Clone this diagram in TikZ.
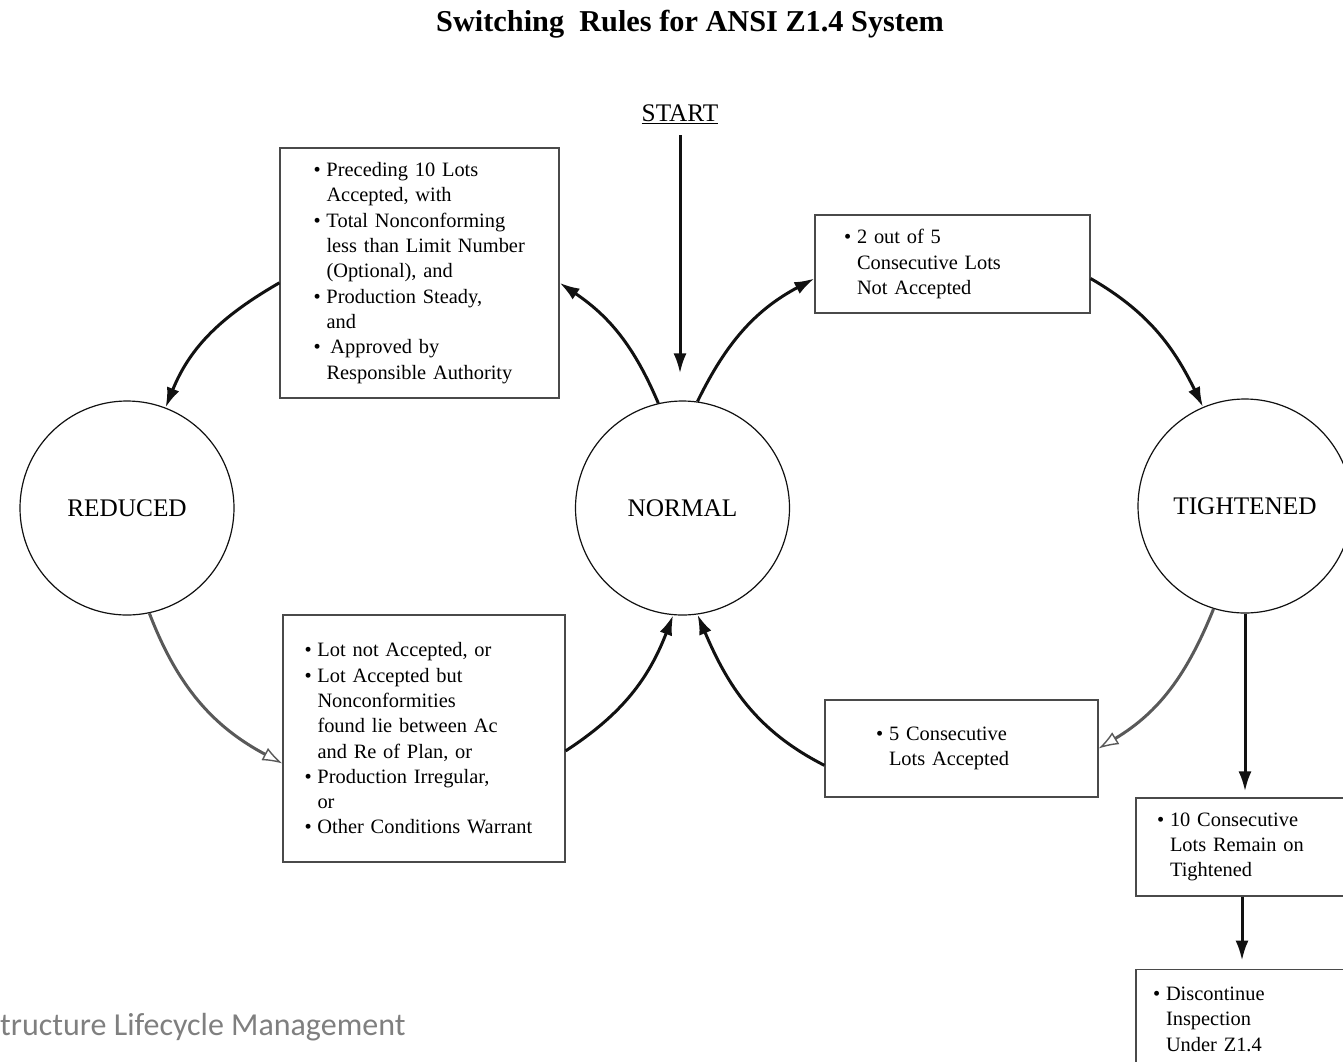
\documentclass[tikz,border=0pt]{standalone}
\usepackage{fontspec}
\setmainfont{Liberation Serif}
\newfontfamily\footfont{Carlito}
\usepackage{xcolor}
\usepackage{tikz}
\usetikzlibrary{arrows.meta,positioning}
\definecolor{ink}{HTML}{111111}
\definecolor{frame}{HTML}{4A4A4A}
\definecolor{muted}{HTML}{7F7F7F}
\newcommand{\bitem}{\makebox[13pt][l]{\textbullet}}
\newcommand{\bcont}{\hspace*{13pt}}

\begin{document}
\begin{tikzpicture}[
    x=1pt, y=1pt,
    node distance=72pt,
    state/.style={circle, draw=ink, line width=1.2pt, minimum size=214pt,
      inner sep=0pt, font=\fontsize{25.3}{30}\selectfont},
    cond/.style={rectangle, draw=frame, line width=1.2pt, align=left,
      inner ysep=0pt, font=\fontsize{20.4}{25.3}\selectfont},
    arrow/.style={-{Latex[length=20pt,width=13pt]}, line width=3pt, draw=ink},
    openarrow/.style={arrow, draw=black!65,
      -{Latex[open,length=20pt,width=14pt,line width=1.4pt]}},
    label/.style={font=\fontsize{25.3}{30}\selectfont}
  ]
    \useasboundingbox (0,0) rectangle (1343,-1061);
    \clip (0,0) rectangle (1343,-1061);

    \node[font=\bfseries\fontsize{30.3}{36}\selectfont] (title) at (690,-24)
      {Switching\ \ Rules for ANSI Z1.4 System};
    \node[label] (start) at (680,-114) {\underline{START}};

    \node[state] (reduced) at (127,-508) {REDUCED};
    \node[state] (normal) at (682.5,-508) {NORMAL};
    \node[state] (tight) at (1245,-506) {TIGHTENED};

    \node[cond, text width=212pt, inner xsep=33.5pt, minimum height=250pt]
      (toreduced) at (419.5,-273)
      {\bitem Preceding 10 Lots\\
       \bcont Accepted, with\\
       \bitem Total Nonconforming\\
       \bcont less than Limit Number\\
       \bcont (Optional), and\\
       \bitem Production Steady,\\
       \bcont and\\
       \bitem\hspace{4pt}Approved by\\
       \bcont Responsible Authority};
    \node[cond, text width=217pt, inner xsep=29pt, minimum height=98pt]
      (totight) at (952.5,-264)
      {\bitem 2 out of 5\\
       \bcont Consecutive Lots\\
       \bcont Not Accepted};
    \node[cond, text width=239pt, inner xsep=21.5pt, minimum height=247pt]
      (fromreduced) at (424,-738.5)
      {\bitem Lot not Accepted, or\\
       \bitem Lot Accepted but\\
       \bcont Nonconformities\\
       \bcont found lie between Ac\\
       \bcont and Re of Plan, or\\
       \bitem Production Irregular,\\
       \bcont or\\
       \bitem Other Conditions Warrant};
    \node[cond, text width=171pt, inner xsep=51pt, minimum height=97pt]
      (fromtight) at (961.5,-748.5)
      {\bitem 5 Consecutive\\
       \bcont Lots Accepted};
    \node[cond, text width=188pt, inner xsep=21pt, minimum height=98pt]
      (remain) at (1251,-847)
      {\bitem 10 Consecutive\\
       \bcont Lots Remain on\\
       \bcont Tightened};
    \node[cond, text width=196pt, inner xsep=17pt, minimum height=100pt,
      below=of remain] (discont)
      {\bitem Discontinue\\
       \bcont Inspection\\
       \bcont Under Z1.4};

    \draw[arrow, shorten <=8pt, shorten >=27pt] (start.south) -- (start.south |- normal.north);
    \draw[arrow] (normal.103) to[out=113, in=-34] (toreduced.-4);
    \draw[arrow] (toreduced.184) to[out=210, in=68] (reduced.69);
    \draw[openarrow] (reduced.-78) to[out=-69, in=152] (fromreduced.190);
    \draw[arrow] (fromreduced.-5) to[out=33, in=-111] (normal.-95);
    \draw[arrow] (normal.82) to[out=64, in=208] (totight.186);
    \draw[arrow] (totight.-6) to[out=-30, in=116] (tight.113);
    \draw[openarrow] (tight.253) to[out=-112, in=31] (fromtight.east);
    \draw[arrow] (fromtight.187) to[out=153, in=-67] (normal.-82);
    \draw[arrow, shorten >=6pt] (tight.south) -- (tight.south |- remain.north);
    \draw[arrow, shorten >=8pt] ([xshift=-9pt]remain.south) -- ([xshift=-9pt]discont.north);

    \node[anchor=base west, inner sep=0pt, text=muted,
      font=\footfont\fontsize{32}{38}\selectfont] (footer) at (0,-1035)
      {tructure Lifecycle Management};
  \end{tikzpicture}
\end{document}
